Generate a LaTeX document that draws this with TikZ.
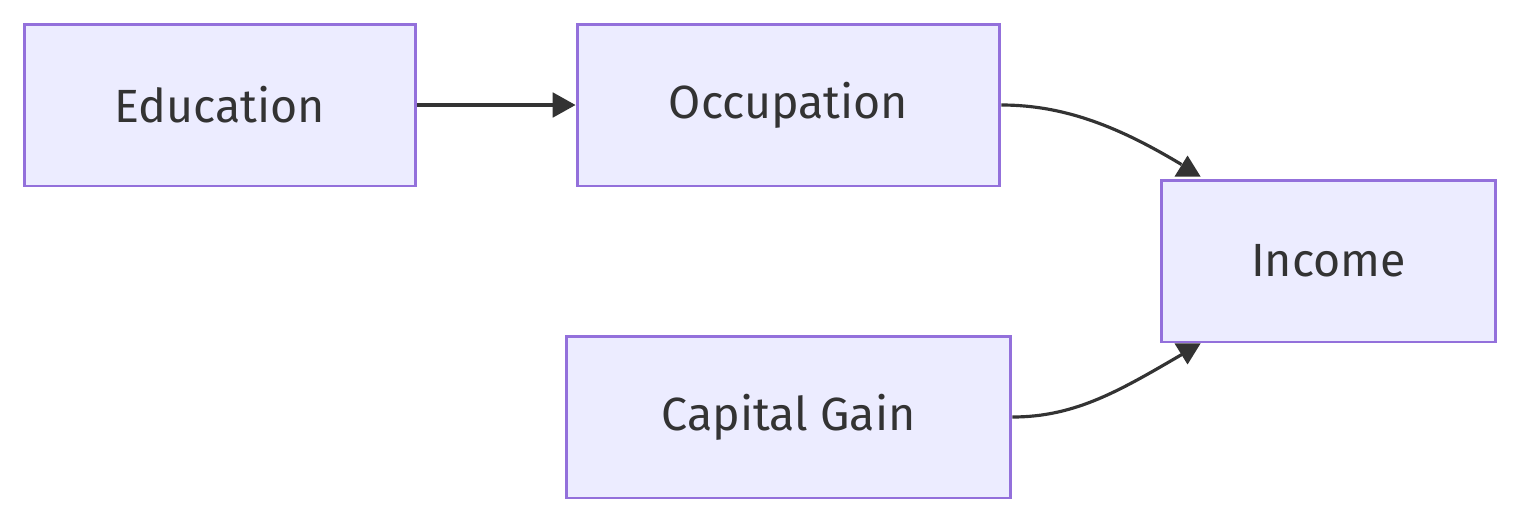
\documentclass[tikz,border=0pt]{standalone}
\usepackage{fontspec}
\setmainfont{Fira Sans}
\usetikzlibrary{arrows.meta,calc}
\definecolor{boxfill}{HTML}{ECECFF}
\definecolor{boxline}{HTML}{9370DB}
\definecolor{ink}{HTML}{333333}
\tikzset{
  factor/.style={draw=boxline,fill=boxfill,line width=1.7pt,text=ink,
    font=\fontsize{26.5}{30}\selectfont,inner sep=0pt,minimum height=3.24cm},
  link/.style={draw=ink,line width=1.8pt},
  head/.style={fill=ink}
}

\begin{document}
\begin{tikzpicture}[x=0.02cm,y=-0.02cm]
        \useasboundingbox (0,0) rectangle (1520,522);

        \node[factor,minimum width=7.84cm] (edu) at (220,105) {Education};
        \node[factor,minimum width=8.46cm] (occ) at (788.5,105) {Occupation};
        \node[factor,minimum width=6.7cm] (inc) at (1328.5,261) {Income};
        \node[factor,minimum width=8.9cm] (cap) at (788.5,417) {Capital Gain};

        \coordinate (top end) at ($(inc.north west)+(22,-14)$);
        \coordinate (top tip) at ($(inc.north west)+(28,-23)$);
        \coordinate (bot end) at ($(inc.south west)+(24,10)$);
        \coordinate (bot tip) at ($(inc.south west)+(28,21)$);

        \draw[link,-{Triangle[length=13pt,width=14pt]}] (edu) -- (occ);
        \draw[link] (occ.east) .. controls +(65,0) and +(-60,-36) .. (top end);
        \draw[link] (cap.east) .. controls +(64,0) and +(-62,36) .. (bot end);

        \fill[head] (top tip) -- ++(-13,21) -- ++(26,0) -- cycle;
        \fill[head] (bot tip) -- ++(-13,-21) -- ++(26,0) -- cycle;
\end{tikzpicture}
\end{document}
